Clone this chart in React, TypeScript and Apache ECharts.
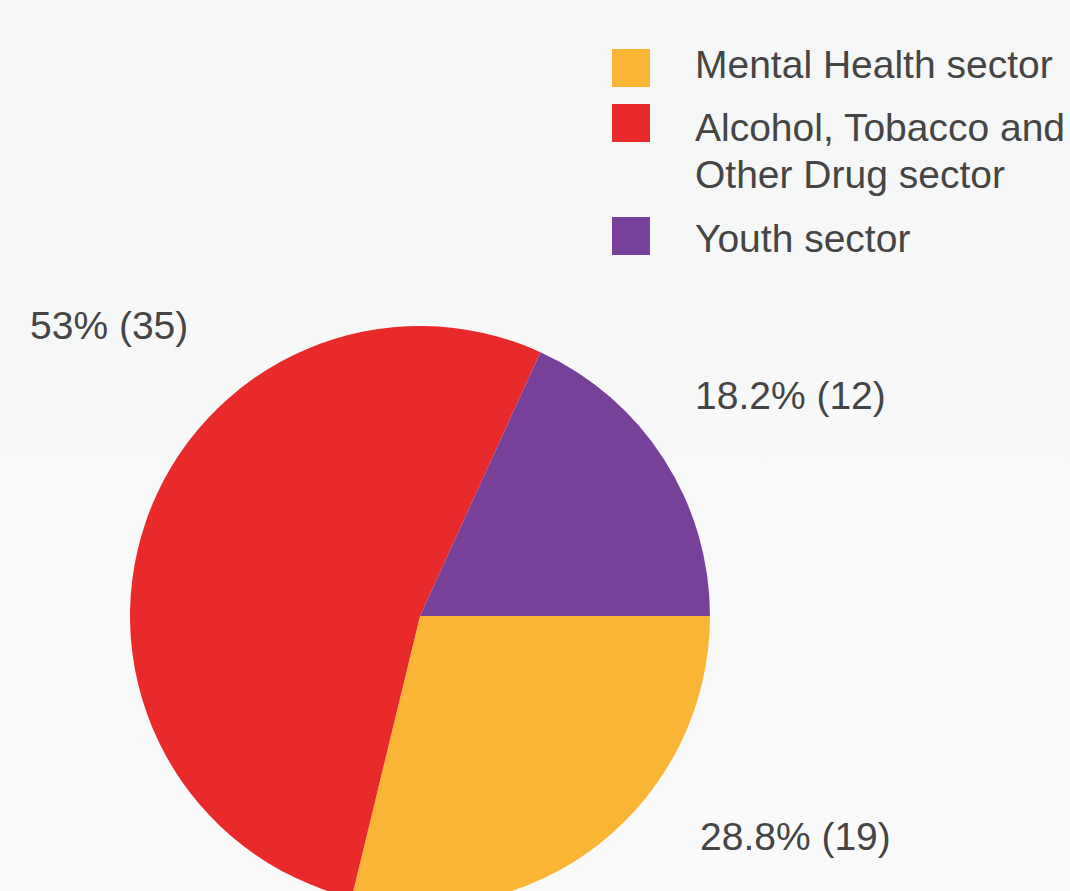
import React, { useEffect, useRef } from "react";
import * as echarts from "echarts";

const categories = ["Mental Health sector", "Alcohol, Tobacco and Other Drug sector", "Youth sector"];
const legendLabels = ["Mental Health sector", "Alcohol, Tobacco and\nOther Drug sector", "Youth sector"];
const counts = [19, 35, 12];
const colors = ["#FBB534", "#E92A2A", "#774199"];

// label anchor points (left, vertical middle) per slice
const labelPos = [
  [700, 836],
  [30, 325],
  [695, 395],
];
const legendRows = [49, 104, 217];
const legendTextY = [41, 104, 215];

const FONT = "'Liberation Sans', Helvetica, Arial, sans-serif";
const TEXT_COLOR = "#454545";
const FS = 39;

export default function App() {
  const ref = useRef<HTMLDivElement>(null);
  useEffect(() => {
    document.body.style.margin = "0";
    const chart = echarts.init(ref.current!, undefined, { renderer: "svg" });
    const total = counts.reduce((a, b) => a + b, 0);
    const legendGraphics: any[] = [];
    categories.forEach((c, i) => {
      legendGraphics.push({
        type: "rect",
        shape: { x: 612, y: legendRows[i], width: 38, height: 38 },
        style: { fill: colors[i] },
      });
      legendGraphics.push({
        type: "text",
        x: 695,
        y: legendTextY[i],
        style: {
          text: legendLabels[i],
          fill: TEXT_COLOR,
          font: `${FS}px ${FONT}`,
          lineHeight: 47,
          verticalAlign: "top",
        },
      });
    });
    chart.setOption({
      animation: false,
      backgroundColor: {
        type: "linear",
        x: 0,
        y: 0,
        x2: 0,
        y2: 1,
        colorStops: [
          { offset: 0, color: "#f5f6f6" },
          { offset: 1, color: "#fafafa" },
        ],
      },
      graphic: legendGraphics,
      series: [
        {
          type: "pie",
          center: [420, 616],
          radius: 290,
          startAngle: 0,
          clockwise: true,
          silent: true,
          data: categories.map((name, i) => ({
            name,
            value: counts[i],
            itemStyle: { color: colors[i] },
          })),
          label: {
            show: true,
            position: "outside",
            fontFamily: FONT,
            fontSize: FS,
            color: TEXT_COLOR,
            overflow: "none",
            width: 300,
            formatter: (p: any) => {
              const pct = Math.round((p.value / total) * 1000) / 10;
              return `${pct}% (${p.value})`;
            },
          },
          labelLine: { show: false },
          labelLayout: (params: any) => ({
            x: labelPos[params.dataIndex][0],
            y: labelPos[params.dataIndex][1],
            align: "left",
            verticalAlign: "middle",
          }),
        },
      ],
    });
    return () => chart.dispose();
  }, []);
  return <div ref={ref} style={{ width: 1070, height: 891 }} />;
}
